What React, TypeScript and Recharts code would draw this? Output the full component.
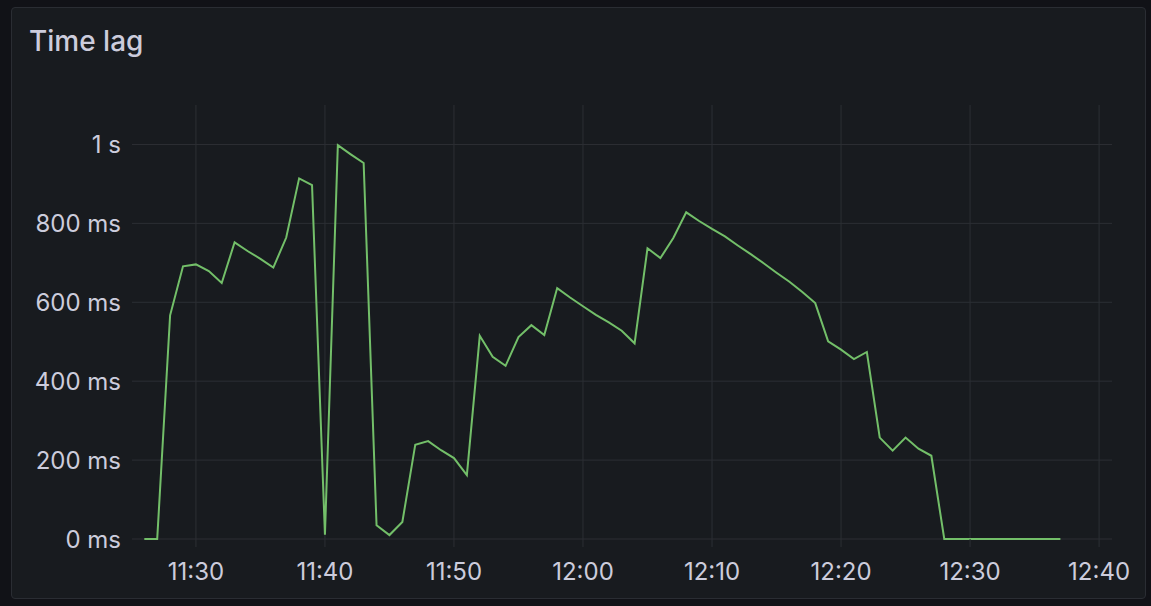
import { Line, LineChart, ReferenceLine, XAxis, YAxis } from "recharts";

// one sample per minute, 11:26 .. 12:37
const times = [
  "11:26", "11:27", "11:28", "11:29", "11:30", "11:31", "11:32", "11:33", "11:34", "11:35",
  "11:36", "11:37", "11:38", "11:39", "11:40", "11:41", "11:42", "11:43", "11:44", "11:45",
  "11:46", "11:47", "11:48", "11:49", "11:50", "11:51", "11:52", "11:53", "11:54", "11:55",
  "11:56", "11:57", "11:58", "11:59", "12:00", "12:01", "12:02", "12:03", "12:04", "12:05",
  "12:06", "12:07", "12:08", "12:09", "12:10", "12:11", "12:12", "12:13", "12:14", "12:15",
  "12:16", "12:17", "12:18", "12:19", "12:20", "12:21", "12:22", "12:23", "12:24", "12:25",
  "12:26", "12:27", "12:28", "12:29", "12:30", "12:31", "12:32", "12:33", "12:34", "12:35",
  "12:36", "12:37",
];

// lag in ms
const lagMs = [
  0, 0, 567, 691, 696, 679, 649, 752, 730, 710,
  688, 764, 914, 897, 11, 998, 975, 953, 35, 10,
  43, 239, 248, 225, 205, 162, 515, 462, 439, 512,
  542, 517, 636, 612, 590, 568, 549, 528, 496, 737,
  712, 763, 828, 806, 786, 767, 744, 722, 699, 675,
  652, 626, 598, 501, 480, 456, 474, 257, 224, 257,
  229, 211, 0, 0, 0, 0, 0, 0, 0, 0,
  0, 0,
];

const xTicks = ["11:30", "11:40", "11:50", "12:00", "12:10", "12:20", "12:30", "12:40"];
const yTicks = [0, 200, 400, 600, 800, 1000];

const toMinutes = (t: string) => {
  const [h, m] = t.split(":").map(Number);
  return h * 60 + m;
};

const fmtTime = (v: number) => {
  const h = Math.floor(v / 60);
  const m = Math.round(v - h * 60);
  return `${h}:${String(m).padStart(2, "0")}`;
};

const fmtLag = (v: number) => (v >= 1000 ? `${v / 1000} s` : `${v} ms`);

const data = times.map((t, i) => ({ t: toMinutes(t), lag: lagMs[i] }));

const GRID = "#2c2f34";
const TEXT = "#ccccdc";
const FONT = "Inter, 'Noto Sans', sans-serif";

export default function App() {
  return (
    <div
      style={{
        position: "fixed",
        left: 0,
        top: 0,
        width: 1151,
        height: 606,
        background: "#111217",
        fontFamily: FONT,
      }}
    >
      <div
        style={{
          position: "absolute",
          left: 11,
          top: 7,
          width: 1133,
          height: 590,
          background: "#181b1f",
          border: "1px solid #2a2d33",
          borderRadius: 4,
        }}
      />
      <div
        style={{
          position: "absolute",
          left: 29,
          top: 23,
          fontSize: 28,
          fontWeight: 500,
          color: TEXT,
          lineHeight: "36px",
        }}
      >
        Time lag
      </div>
      <div style={{ position: "absolute", left: 0, top: 0 }}>
        <LineChart
          width={1151}
          height={606}
          data={data}
          margin={{ top: 105, right: 39, bottom: 27, left: 40 }}
        >
          <XAxis
            dataKey="t"
            type="number"
            domain={[toMinutes("11:25") + 2 / 3, toMinutes("12:41")]}
            ticks={xTicks.map(toMinutes)}
            tickFormatter={fmtTime}
            height={40}
            axisLine={false}
            tickLine={{ stroke: GRID }}
            tickSize={8}
            tickMargin={16}
            tick={{ fill: TEXT, fontSize: 24, fontFamily: FONT }}
            allowDataOverflow
          />
          <YAxis
            type="number"
            domain={[0, 1100]}
            ticks={yTicks}
            tickFormatter={fmtLag}
            width={100}
            axisLine={false}
            tickLine={{ stroke: GRID }}
            tickSize={8}
            tickMargin={11}
            tick={{ fill: TEXT, fontSize: 24, fontFamily: FONT }}
          />
          {yTicks.map((v) => (
            <ReferenceLine key={`y${v}`} y={v} stroke={GRID} strokeWidth={1} />
          ))}
          {xTicks.map((t) => (
            <ReferenceLine key={`x${t}`} x={toMinutes(t)} stroke={GRID} strokeWidth={1} />
          ))}
          <Line
            dataKey="lag"
            type="linear"
            stroke="#73bf69"
            strokeWidth={2}
            dot={false}
            activeDot={false}
            isAnimationActive={false}
          />
        </LineChart>
      </div>
    </div>
  );
}
